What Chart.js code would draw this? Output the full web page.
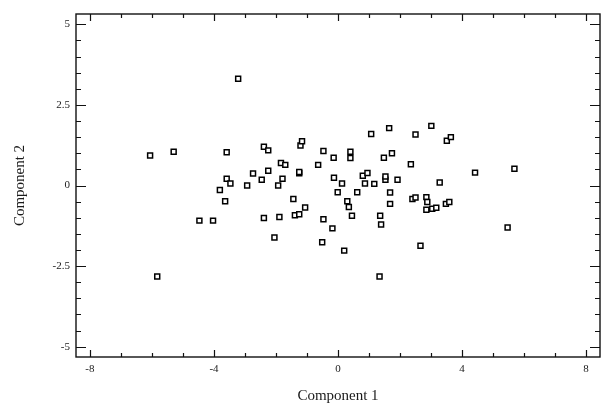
<!DOCTYPE html>
<html>
<head>
<meta charset="utf-8">
<script src="https://cdn.jsdelivr.net/npm/chart.js@4/dist/chart.umd.min.js"></script>
<style>
  html, body { margin: 0; padding: 0; background: #fff; }
  #wrap { width: 612px; height: 414px; }
</style>
</head>
<body>
<div id="wrap"><canvas id="c" width="612" height="414"></canvas></div>
<script>
'use strict';
// component scores
var comp1 = [
  -6.06, -5.30, -5.83, -3.22, -3.59, -3.59, -3.47, -3.81, -3.64, -4.47,
  -4.03, -2.93, -2.74, -2.46, -2.25, -2.39, -2.25, -2.39, -2.05, -1.89,
  -1.93, -1.84, -1.70, -1.79, -1.44, -1.39, -1.25, -1.06, -1.25, -1.25,
  -1.21, -1.16, -0.64, -0.47, -0.47, -0.51, -0.18, -0.14, -0.13, -0.01,
   0.13,  0.20,  0.30,  0.35,  0.45,  0.40,  0.40,  0.62,  0.80,  0.95,
   0.87,  1.07,  1.17,  1.34,  1.36,  1.39,  1.48,  1.53,  1.53,  1.65,
   1.68,  1.68,  1.74,  1.92,  2.35,  2.40,  2.50,  2.50,  2.66,  2.85,
   2.88,  2.85,  3.01,  3.04,  3.17,  3.28,  3.48,  3.59,  3.51,  3.64,
   4.42,  5.47,  5.69
];
var comp2 = [
   0.93,  1.05, -2.82,  3.31,  1.03,  0.21,  0.06, -0.14, -0.49, -1.09,
  -1.09,  0.00,  0.37,  0.18,  0.46,  1.20,  1.09, -1.01, -1.61, -0.98,
   0.00,  0.70,  0.64,  0.21, -0.42, -0.92, -0.89, -0.68,  0.38,  0.42,
   1.24,  1.37,  0.64,  1.07, -1.05, -1.76, -1.33,  0.86,  0.24, -0.21,
   0.06, -2.02, -0.49, -0.67, -0.94,  1.05,  0.85, -0.21,  0.30,  0.39,
   0.06,  1.60,  0.05, -2.82, -0.94, -1.21,  0.86,  0.18,  0.28,  1.78,
  -0.22, -0.57,  1.00,  0.18,  0.66, -0.42, -0.37,  1.58, -1.87, -0.36,
  -0.51, -0.75,  1.85, -0.72, -0.69,  0.09, -0.57, -0.51,  1.39,  1.50,
   0.40, -1.30,  0.52
];
var xTicks = [-8, -4, 0, 4, 8];
var yTicks = [-5, -2.5, 0, 2.5, 5];
var xTitle = 'Component 1';
var yTitle = 'Component 2';

var points = comp1.map(function (v, i) { return {x: v, y: comp2[i]}; });

// frame and inward tick marks on all four sides
var frameTicks = {
  id: 'frameTicks',
  afterDraw: function (chart) {
    var ctx = chart.ctx, a = chart.chartArea;
    var xs = chart.scales.x, ys = chart.scales.y;
    ctx.save();
    ctx.strokeStyle = '#111';
    ctx.lineWidth = 1.4;
    ctx.strokeRect(a.left, a.top, a.right - a.left, a.bottom - a.top);
    ctx.lineWidth = 1.2;
    ctx.beginPath();
    for (var i = -8; i <= 8; i++) {
      var px = Math.round(xs.getPixelForValue(i)) + 0.5;
      var len = (i % 4 === 0) ? 7 : 4;
      ctx.moveTo(px, a.bottom); ctx.lineTo(px, a.bottom - len);
      ctx.moveTo(px, a.top); ctx.lineTo(px, a.top + len);
    }
    for (var j = -10; j <= 10; j++) {
      var v = j / 2;
      var py = Math.round(ys.getPixelForValue(v)) + 0.5;
      var l2 = (j % 5 === 0) ? 10 : 5;
      ctx.moveTo(a.left, py); ctx.lineTo(a.left + l2, py);
      ctx.moveTo(a.right, py); ctx.lineTo(a.right - l2, py);
    }
    ctx.stroke();
    ctx.restore();
  }
};

var serif = '"Liberation Serif", "DejaVu Serif", serif';

new Chart(document.getElementById('c'), {
  type: 'scatter',
  data: {
    datasets: [{
      data: points,
      pointStyle: 'rect',
      pointRadius: 3.5,
      pointHoverRadius: 3.5,
      borderWidth: 1.5,
      borderColor: '#000',
      backgroundColor: '#fff'
    }]
  },
  options: {
    responsive: false,
    animation: false,
    devicePixelRatio: 1,
    layout: { padding: { left: 0, right: 12, top: 14, bottom: 0 } },
    plugins: { legend: { display: false }, tooltip: { enabled: false } },
    scales: {
      x: {
        type: 'linear',
        min: -8.45, max: 8.45,
        afterBuildTicks: function (s) { s.ticks = xTicks.map(function (v) { return {value: v}; }); },
        afterFit: function (s) { s.height = 57; },
        grid: { display: false, drawTicks: false },
        border: { display: false },
        ticks: { padding: 6, color: '#1a1a1a', font: { family: serif, size: 11 }, maxRotation: 0,
                 callback: function (v) { return String(v); } },
        title: { display: true, text: xTitle, color: '#1a1a1a', padding: { top: 0, bottom: 9 },
                 font: { family: serif, size: 15 } }
      },
      y: {
        type: 'linear',
        min: -5.32, max: 5.32,
        afterBuildTicks: function (s) { s.ticks = yTicks.map(function (v) { return {value: v}; }); },
        afterFit: function (s) { s.width = 76; },
        grid: { display: false, drawTicks: false },
        border: { display: false },
        ticks: { padding: 6, color: '#1a1a1a', font: { family: serif, size: 11 },
                 callback: function (v) { return String(v); } },
        title: { display: true, text: yTitle, color: '#1a1a1a', padding: { top: 11, bottom: 0 },
                 font: { family: serif, size: 15 } }
      }
    }
  },
  plugins: [frameTicks]
});
</script>
</body>
</html>
